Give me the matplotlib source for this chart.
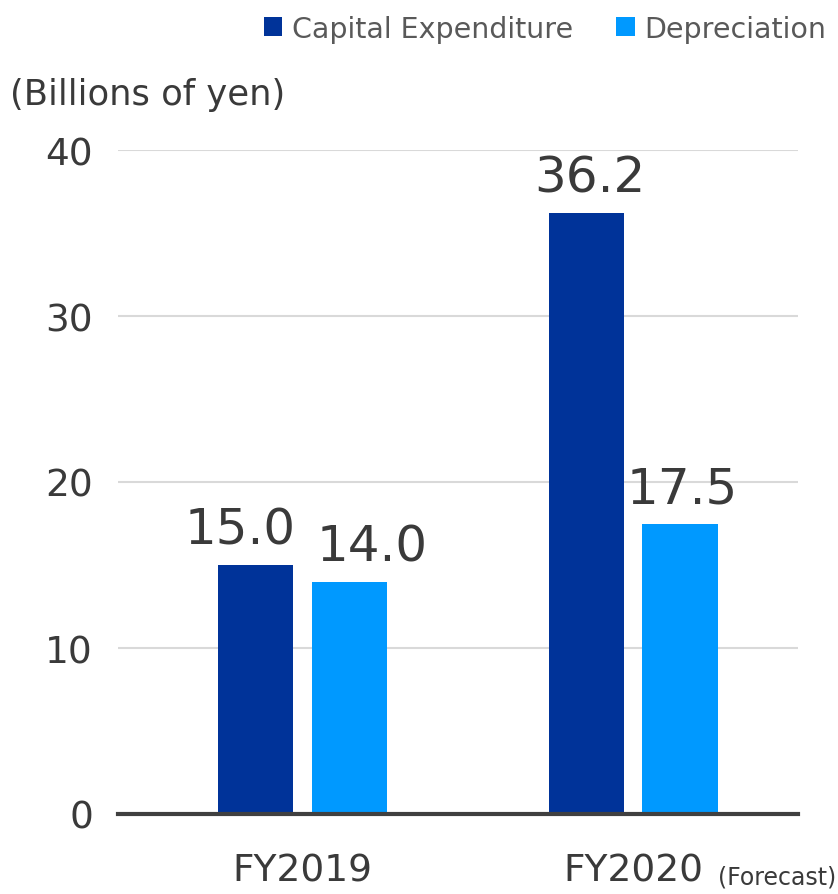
import matplotlib.pyplot as plt
import numpy as np

# Capital expenditure vs depreciation, billions of yen
years = ["FY2019", "FY2020"]
capex = [15.0, 36.2]
depreciation = [14.0, 17.5]
yticks = [0, 10, 20, 30, 40]

navy = "#003399"
sky = "#0099ff"
text_color = "#3a3a3a"

fig = plt.figure(figsize=(8.38, 8.95), dpi=100)
ax = fig.add_axes([118 / 838, 80 / 895, 680 / 838, (815 - 151) / 895])

x = np.arange(len(years))
width = 0.227
offset = 0.142
b1 = ax.bar(x - offset, capex, width, color=navy, label="Capital Expenditure", zorder=3)
b2 = ax.bar(x + offset, depreciation, width, color=sky, label="Depreciation", zorder=3)

# value labels above each bar; the FY2019 pair is nudged apart so they don't collide
nudges = [(-11, 3), (16, 1.5)]
for bars, dx in zip((b1, b2), nudges):
    for rect, d in zip(bars, dx):
        h = rect.get_height()
        ax.annotate(f"{h:.1f}", (rect.get_x() + rect.get_width() / 2, h),
                    xytext=(d, 8), textcoords="offset points",
                    ha="center", va="bottom", fontsize=36, color=text_color)

ax.set_ylim(0, 40)
ax.set_xlim(-0.558, 1.499)
ax.set_yticks(yticks)
ax.set_yticklabels([str(t) for t in yticks])
ax.tick_params(axis="y", length=0, pad=18, labelsize=27, labelcolor=text_color)
ax.set_xticks(x)
ax.set_xticklabels(years)
ax.tick_params(axis="x", length=0, pad=28, labelsize=27, labelcolor=text_color)

ax.yaxis.grid(True, color="#d9d9d9", linewidth=1.5, zorder=0)
for side in ("top", "right", "left"):
    ax.spines[side].set_visible(False)
ax.spines["bottom"].set_color("#404040")
ax.spines["bottom"].set_linewidth(3)
ax.spines["bottom"].set_zorder(4)

fig.text(10 / 838, 1 - 95 / 895, "(Billions of yen)", fontsize=25.5,
         color=text_color, va="center", ha="left")
fig.text(836 / 838, 1 - 878 / 895, "(Forecast)", fontsize=17,
         color=text_color, va="center", ha="right")

fig.legend(handles=[b1, b2], loc="upper right", bbox_to_anchor=(1.0, 0.995),
           ncol=2, frameon=False, fontsize=20.5, labelcolor="#595959",
           handlelength=0.65, handleheight=0.65, handletextpad=0.35,
           columnspacing=1.5, borderaxespad=0.0)

fig.savefig("out.png", dpi=100)
